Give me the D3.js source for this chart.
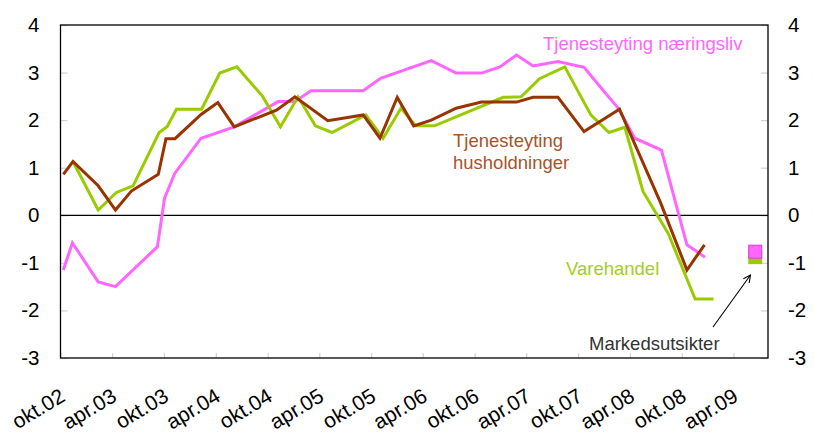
<!DOCTYPE html>
<html><head><meta charset="utf-8">
<script src="https://cdn.jsdelivr.net/npm/d3@7"></script>
<style>
body{margin:0;background:#fff;}
svg{display:block;font-family:"Liberation Sans",Arial,sans-serif;}
</style>
</head><body>
<svg id="chart" width="814" height="434"></svg>
<script>
// ---- Axis categories / ticks ----
const tickDates  = ["2002-10-01","2003-04-01","2003-10-01","2004-04-01","2004-10-01","2005-04-01","2005-10-01",
                    "2006-04-01","2006-10-01","2007-04-01","2007-10-01","2008-04-01","2008-10-01","2009-04-01"];
const tickLabels = ["okt.02","apr.03","okt.03","apr.04","okt.04","apr.05","okt.05",
                    "apr.06","okt.06","apr.07","okt.07","apr.08","okt.08","apr.09"];
const yTicks = [-3,-2,-1,0,1,2,3,4];

// ---- Series: Tjenesteyting husholdninger ----
const husDates = ["2002-10-11","2002-11-14","2003-02-11","2003-04-13","2003-06-08","2003-09-11","2003-10-08",
  "2003-11-09","2004-02-09","2004-04-08","2004-06-05","2004-11-01","2005-01-05","2005-05-01","2005-09-03",
  "2005-11-01","2006-01-01","2006-02-28","2006-05-01","2006-07-28","2006-10-25","2007-02-26","2007-04-25",
  "2007-07-22","2007-10-22","2008-02-24","2008-07-19","2008-10-19","2008-12-20"];
const husValues = [0.86,1.13,0.62,0.11,0.51,0.86,1.61,1.61,2.12,2.37,1.86,2.21,2.49,1.99,2.11,
  1.62,2.48,1.88,2.0,2.25,2.38,2.38,2.48,2.48,1.76,2.23,0.25,-1.15,-0.62];

// ---- Series: Varehandel ----
const vareDates = ["2002-11-14","2003-02-11","2003-04-16","2003-06-14","2003-09-14","2003-10-12","2003-11-14",
  "2004-02-11","2004-04-15","2004-06-14","2004-09-12","2004-11-15","2005-01-16","2005-03-18","2005-05-16",
  "2005-09-12","2005-11-12","2006-01-14","2006-03-08","2006-05-12","2007-01-10","2007-03-14","2007-05-18",
  "2007-08-15","2007-11-15","2008-01-18","2008-03-14","2008-05-17","2008-08-14","2008-11-17","2009-01-21"];
const vareValues = [1.13,0.11,0.48,0.62,1.74,1.86,2.23,2.23,2.99,3.12,2.51,1.86,2.49,1.88,1.74,
  2.11,1.62,2.25,1.88,1.88,2.48,2.49,2.87,3.12,2.11,1.74,1.85,0.50,-0.38,-1.76,-1.76];

// ---- Series: Tjenesteyting næringsliv ----
const naerDates = ["2002-10-11","2002-11-12","2003-02-11","2003-04-13","2003-09-08","2003-10-03","2003-11-08",
  "2004-02-09","2004-06-05","2004-11-07","2005-01-05","2005-03-03","2005-09-03","2005-11-03","2006-05-01",
  "2006-07-28","2006-10-26","2006-12-29","2007-02-26","2007-04-25","2007-07-22","2007-10-22","2007-12-28",
  "2008-02-20","2008-04-18","2008-07-21","2008-10-19","2008-12-22"];
const naerValues = [-1.15,-0.58,-1.40,-1.50,-0.66,0.36,0.88,1.62,1.86,2.39,2.39,2.62,2.62,2.88,3.25,
  2.99,2.99,3.12,3.37,3.14,3.23,3.11,2.63,2.25,1.62,1.37,-0.62,-0.88];

// ---- Markedsutsikter (expectations) ----
const outlookDate = "2009-06-17";
const outlookVare = -0.88;
const outlookNaer = -0.765;

const parse = d3.timeParse("%Y-%m-%d");
const svg = d3.select("#chart");
const L = 60.5, R = 768, T = 25, B = 358;

const x = d3.scaleTime().domain([parse("2002-10-01"), parse("2009-08-01")]).range([L, R]);
const y = d3.scaleLinear().domain([-3, 4]).range([B, T]);

const FONT = "Liberation Sans, Arial, sans-serif";
const gridCol = "#d4d4d4";

// bottom axis: inner ticks + rotated labels
const ax = svg.append("g").attr("transform", `translate(0,${B})`)
  .call(d3.axisBottom(x).tickValues(tickDates.map(parse)).tickSizeInner(-5).tickSizeOuter(0)
        .tickFormat((d,i) => tickLabels[i]));
ax.select(".domain").remove();
ax.selectAll(".tick line").attr("stroke", gridCol).attr("stroke-width", 1.3);
ax.selectAll(".tick text")
  .attr("font-size", 21).attr("fill", "#000").attr("font-family", FONT)
  .attr("text-anchor", "end").attr("y", 0).attr("dy", 0)
  .attr("transform", "translate(5.5,42) rotate(-31)");

// left / right axes
const yFmt = d => String(d);
const ayl = svg.append("g").attr("transform", `translate(${L},0)`)
  .call(d3.axisLeft(y).tickValues(yTicks).tickFormat(yFmt).tickSizeInner(-7).tickSizeOuter(0).tickPadding(21));
ayl.select(".domain").remove();
ayl.selectAll(".tick line").attr("stroke", gridCol).attr("stroke-width", 1.3);
ayl.selectAll(".tick text").attr("font-size", 20.5).attr("fill", "#000").attr("font-family", FONT);

const ayr = svg.append("g").attr("transform", `translate(${R},0)`)
  .call(d3.axisRight(y).tickValues(yTicks).tickFormat(yFmt).tickSizeInner(-7).tickSizeOuter(0).tickPadding(20));
ayr.select(".domain").remove();
ayr.selectAll(".tick line").attr("stroke", gridCol).attr("stroke-width", 1.3);
ayr.selectAll(".tick text").attr("font-size", 20.5).attr("fill", "#000").attr("font-family", FONT);

// zero line
svg.append("line").attr("x1", L).attr("x2", R).attr("y1", y(0)).attr("y2", y(0))
  .attr("stroke", "#000").attr("stroke-width", 1.3);

// series
const line = d3.line().x(d => x(d[0])).y(d => y(d[1]));
function drawSeries(dates, values, color) {
  svg.append("path").datum(dates.map((d,i) => [parse(d), values[i]]))
    .attr("d", line).attr("fill", "none").attr("stroke", color)
    .attr("stroke-width", 3).attr("stroke-linejoin", "miter");
}
drawSeries(naerDates, naerValues, "#ff66ff");
drawSeries(vareDates, vareValues, "#99cc00");
drawSeries(husDates, husValues, "#993300");

// outlook markers
const ms = 14;
svg.append("rect").attr("x", x(parse(outlookDate)) - ms/2).attr("y", y(outlookVare) - ms/2)
  .attr("width", ms).attr("height", ms).attr("fill", "#99cc00");
svg.append("rect").attr("x", x(parse(outlookDate)) - ms/2 + 0.5).attr("y", y(outlookNaer) - ms/2 + 0.5)
  .attr("width", ms - 1).attr("height", ms - 1).attr("fill", "#ff66ff").attr("stroke", "#e633e6").attr("stroke-width", 1);

// frame
svg.append("rect").attr("x", L).attr("y", T).attr("width", R - L).attr("height", B - T)
  .attr("fill", "none").attr("stroke", "#000").attr("stroke-width", 1.3);

// annotations
const fs = 18.5;
svg.append("text").attr("x", 543).attr("y", 50).attr("font-size", fs).attr("fill", "#ff66ff")
  .text("Tjenesteyting næringsliv");
svg.append("text").attr("x", 453).attr("y", 146.5).attr("font-size", fs).attr("fill", "#a9532a")
  .text("Tjenesteyting");
svg.append("text").attr("x", 453).attr("y", 168.5).attr("font-size", fs).attr("fill", "#a9532a")
  .text("husholdninger");
svg.append("text").attr("x", 566).attr("y", 275).attr("font-size", fs).attr("fill", "#a3cf1a")
  .text("Varehandel");
svg.append("text").attr("x", 589).attr("y", 350).attr("font-size", fs).attr("fill", "#333")
  .text("Markedsutsikter");

// arrow
svg.append("defs").append("marker").attr("id", "ah").attr("viewBox", "0 0 10 10")
  .attr("refX", 9).attr("refY", 5).attr("markerWidth", 9).attr("markerHeight", 9)
  .attr("markerUnits", "userSpaceOnUse").attr("orient", "auto")
  .append("path").attr("d", "M1,1 L9,5 L1,9").attr("fill", "none").attr("stroke", "#000").attr("stroke-width", 1.2);
svg.append("line").attr("x1", 713).attr("y1", 327).attr("x2", 750.5).attr("y2", 275)
  .attr("stroke", "#000").attr("stroke-width", 1.1).attr("marker-end", "url(#ah)");
</script>
</body></html>
